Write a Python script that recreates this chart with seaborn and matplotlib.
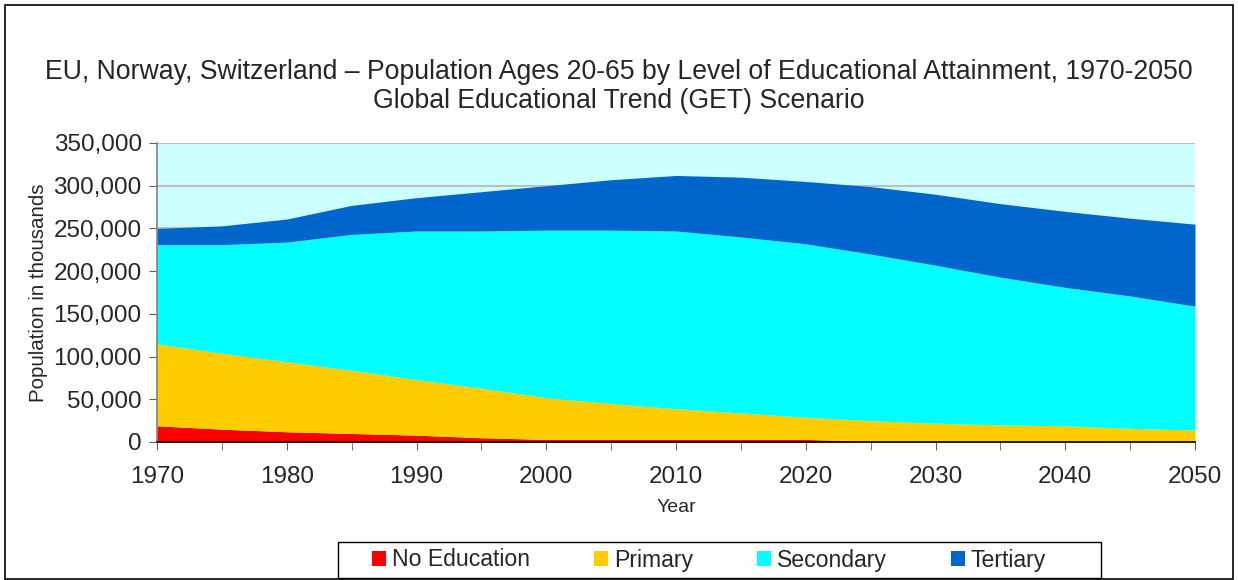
import numpy as np
import matplotlib
matplotlib.use('Agg')
import matplotlib.pyplot as plt
import seaborn as sns
from matplotlib.ticker import FuncFormatter, MultipleLocator

# ─── Data (thousands) ─────────────────────────────────────────────────────────

years = [1970, 1975, 1980, 1985, 1990, 1995, 2000, 2005, 2010,
         2015, 2020, 2025, 2030, 2035, 2040, 2045, 2050]
categories = ["No Education", "Primary", "Secondary", "Tertiary"]

# cumulative tops, converted to layer sizes below
no_education = [19, 15, 12, 10, 8, 5, 3, 3, 3, 3, 3, 1, 1, 1, 1, 0.5, 0.5]
primary_top = [115, 104, 94, 84, 73, 63, 52, 45, 39, 34, 29, 25, 22, 20, 19, 16, 14]
secondary_top = [231, 231, 234, 243, 247, 247, 248, 248, 247, 240, 232, 220, 207, 193, 181, 171, 159]
tertiary_top = [250, 253, 261, 277, 286, 293, 300, 307, 312, 310, 305, 299, 290, 279, 270, 262, 255]

colors = ["#FF0000", "#FFCC00", "#00FFFF", "#0066CC"]

no_ed = np.array(no_education) * 1000
prim = (np.array(primary_top) - np.array(no_education)) * 1000
sec = (np.array(secondary_top) - np.array(primary_top)) * 1000
ter = (np.array(tertiary_top) - np.array(secondary_top)) * 1000

# ─── Plot ─────────────────────────────────────────────────────────────────────

sns.set_style("white")
plt.rcParams['font.family'] = ['Liberation Sans', 'DejaVu Sans']

fig = plt.figure(figsize=(12.38, 5.8), dpi=100)
ax = fig.add_axes([157 / 1238, 138 / 580, 1038 / 1238, 299 / 580])
ax.set_facecolor("#CCFFFF")

ax.stackplot(years, no_ed, prim, sec, ter, colors=colors,
             labels=categories, linewidth=0, zorder=2)

ax.set_xlim(1970, 2050)
ax.set_ylim(0, 350000)
ax.xaxis.set_major_locator(MultipleLocator(10))
ax.xaxis.set_minor_locator(MultipleLocator(5))
ax.yaxis.set_major_locator(MultipleLocator(50000))
ax.yaxis.set_major_formatter(FuncFormatter(lambda v, p: f"{int(v):,}"))
ax.grid(axis="y", color="#BFBFBF", linewidth=1.5, zorder=0)
ax.set_axisbelow(True)

for s in ["top", "right"]:
    ax.spines[s].set_visible(False)
for s in ["left", "bottom"]:
    ax.spines[s].set_color("#808080")
    ax.spines[s].set_linewidth(1.2)
    ax.spines[s].set_zorder(5)
ax.spines["bottom"].set_color("black")

ax.tick_params(axis="both", which="both", direction="out", length=6,
               color="#606060", labelsize=17.5)
ax.tick_params(axis="x", which="minor", length=6, color="#606060")
ax.tick_params(axis="x", which="major", pad=11)
ax.tick_params(axis="y", pad=5)
ax.tick_params(bottom=True, left=True, which="both")

ax.set_xlabel("Year", fontsize=14, labelpad=8)
ax.set_ylabel("Population in thousands", fontsize=14.8, labelpad=4)

fig.text(0.5, 1 - 72 / 580,
         "EU, Norway, Switzerland \u2013 Population Ages 20-65 by Level of Educational Attainment, 1970-2050",
         ha="center", va="center", fontsize=19.2)
fig.text(0.5, 1 - 101 / 580, "Global Educational Trend (GET) Scenario",
         ha="center", va="center", fontsize=19.2)

# legend entries without frame, box drawn separately (wider padding like Excel)
leg = fig.legend(loc="center", bbox_to_anchor=(709 / 1238, 1 - 560 / 580),
                 ncol=4, fontsize=16.6, frameon=False,
                 handlelength=0.6, handleheight=0.6,
                 handletextpad=0.25, columnspacing=2.8, borderpad=0.25)
fig.patches.append(plt.Rectangle((338 / 1238, 2 / 580), 763 / 1238, 36 / 580,
                                 transform=fig.transFigure, fill=False,
                                 edgecolor="black", linewidth=1.0))

# outer chart border
fig.patches.append(plt.Rectangle((0.004, 0.002), 0.992, 0.99, transform=fig.transFigure,
                                 fill=False, edgecolor="black", linewidth=1.2))

plt.savefig("out.png", dpi=100)
